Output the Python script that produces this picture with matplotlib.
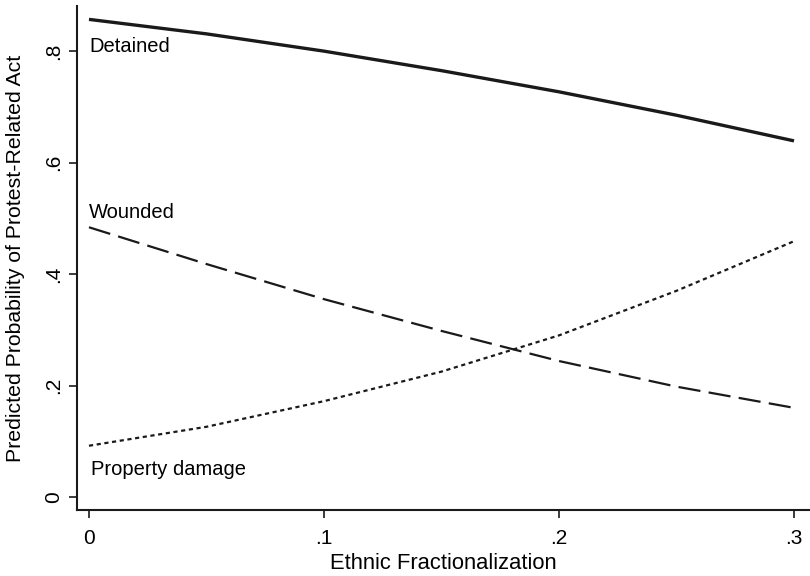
import matplotlib
matplotlib.use('Agg')
import matplotlib.pyplot as plt

# values
frac = [0, 0.05, 0.1, 0.15, 0.2, 0.25, 0.3]
detained = [0.857, 0.831, 0.800, 0.765, 0.727, 0.685, 0.639]
wounded = [0.484, 0.418, 0.355, 0.298, 0.244, 0.198, 0.160]
damage = [0.092, 0.126, 0.172, 0.225, 0.290, 0.370, 0.459]

xticks = [0, 0.1, 0.2, 0.3]
xtick_labels = ['0', '.1', '.2', '.3']
yticks = [0, 0.2, 0.4, 0.6, 0.8]
ytick_labels = ['0', '.2', '.4', '.6', '.8']

plt.rcParams['font.family'] = ['Liberation Sans', 'DejaVu Sans']
plt.rcParams['lines.scale_dashes'] = False

fig = plt.figure(figsize=(8.1, 5.76), dpi=100)
ax = fig.add_axes([77 / 810, 66 / 576, 733 / 810, 504 / 576])

ax.plot(frac, detained, color='#1a1a1a', lw=2.4, solid_capstyle='butt')
ax.plot(frac, wounded, color='#1a1a1a', lw=1.6, dashes=(16, 6))
ax.plot(frac, damage, color='#1a1a1a', lw=1.6, dashes=(3, 2.6))

fs = 14.5
ax.text(0, detained[0] - 0.048, 'Detained', fontsize=fs, va='center', ha='left')
ax.text(0, wounded[0] + 0.026, 'Wounded', fontsize=fs, va='center', ha='left')
ax.text(0.001, damage[0] - 0.043, 'Property damage', fontsize=fs, va='center', ha='left')

ax.set_xlim(-0.0051, 0.3068)
ax.set_ylim(-0.0233, 0.881)
ax.set_xticks(xticks)
ax.set_xticklabels(xtick_labels, fontsize=15)
ax.set_yticks(yticks)
ax.set_yticklabels(ytick_labels, fontsize=15, rotation=90, va='center')
ax.tick_params(direction='out', length=6, width=1.2, color='#1a1a1a')
ax.tick_params(axis='x', pad=8)
ax.tick_params(axis='y', pad=4)

for s in ['top', 'right']:
    ax.spines[s].set_visible(False)
for s in ['left', 'bottom']:
    ax.spines[s].set_linewidth(1.5)
    ax.spines[s].set_color('#1a1a1a')

ax.set_xlabel('Ethnic Fractionalization', fontsize=15.8, labelpad=3)
ax.set_ylabel('Predicted Probability of Protest-Related Act', fontsize=15.3, labelpad=14)

plt.savefig('out.png', dpi=100)
